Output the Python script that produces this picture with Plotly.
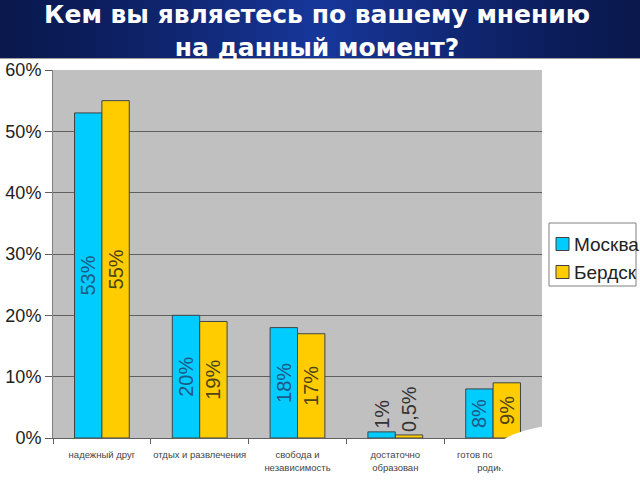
import plotly.graph_objects as go

# Данные опроса
categories = ["надежный друг", "отдых и развлечения", "свобода и<br>независимость",
              "достаточно<br>образован", "готов послужить<br>родине"]
moscow = [53, 20, 18, 1, 8]
berdsk = [55, 19, 17, 0.5, 9]
series_names = ["Москва", "Бердск"]
series_colors = ["#00ccff", "#ffcc00"]
y_ticks = [0, 10, 20, 30, 40, 50, 60]

# геометрия области построения в пикселях (640x480)
L, R, T, B = 53, 542, 70, 438


def px(x):
    return (x - L) / (R - L)


def py(y):
    return (B - y) / (B - T)


def pct_label(v):
    # десятичная запятая, как в оригинале
    return ("%g" % v).replace(".", ",") + "%"


fig = go.Figure()

text_colors = ["#1c5a86", "#4d4418"]
for name, vals, col, tcol in zip(series_names, [moscow, berdsk], series_colors, text_colors):
    fig.add_trace(go.Bar(
        x=categories, y=vals, name=name,
        marker=dict(color=col, line=dict(color="#3f4548", width=1)),
        text=[pct_label(v) for v in vals],
        textposition="auto", textangle=-90, constraintext="none",
        insidetextanchor="middle",
        insidetextfont=dict(family="Liberation Sans, Arial", size=20, color=tcol),
        outsidetextfont=dict(family="Liberation Sans, Arial", size=20, color="#333333"),
        cliponaxis=False, showlegend=False,
    ))

# Шапка слайда: тёмно-синяя полоса, светлее к центру
edge_rgb = (10, 24, 78)
center_rgb = (24, 56, 156)
n_strips = 40
for i in range(n_strips):
    x0 = 640 * i / n_strips
    x1 = 640 * (i + 1) / n_strips
    d = abs((x0 + x1) / 2 - 320) / 320
    k = max(0.0, 1 - d) ** 1.3
    c = tuple(int(e + (m - e) * k) for e, m in zip(edge_rgb, center_rgb))
    fig.add_shape(type="rect", xref="paper", yref="paper",
                  x0=px(x0), x1=px(x1 + 0.5), y0=py(58), y1=py(0),
                  fillcolor="rgb(%d,%d,%d)" % c, line_width=0, layer="below")
fig.add_shape(type="line", xref="paper", yref="paper",
              x0=px(0), x1=px(640), y0=py(58.5), y1=py(58.5),
              line=dict(color="#a0a0a0", width=1))

fig.add_annotation(
    text="<b>Кем вы являетесь по вашему мнению<br>на данный момент?</b>",
    xref="paper", yref="paper", x=px(317), y=py(31),
    xanchor="center", yanchor="middle",
    showarrow=False, align="center",
    font=dict(family="DejaVu Sans", size=25, color="white"),
)

# белое пятно в правом нижнем углу
blob = ("M {},{} L {},{} C {},{} {},{} {},{} C {},{} {},{} {},{} L {},{} Z").format(
    px(640), py(423), px(580), py(423),
    px(522), py(425), px(494), py(440), px(492), py(453),
    px(491), py(462), px(504), py(470), px(512), py(480),
    px(640), py(480))
fig.add_shape(type="path", xref="paper", yref="paper", path=blob,
              fillcolor="white", line_width=0, layer="above")

# легенда в рамке справа
fig.add_shape(type="rect", xref="paper", yref="paper",
              x0=px(549), x1=px(636), y0=py(286), y1=py(223),
              fillcolor="white", line=dict(color="#808080", width=1))
for i, (name, col) in enumerate(zip(series_names, series_colors)):
    yc = 244 + i * 28
    fig.add_shape(type="rect", xref="paper", yref="paper",
                  x0=px(556), x1=px(569), y0=py(yc + 6.5), y1=py(yc - 6.5),
                  fillcolor=col, line=dict(color="#404040", width=1))
    fig.add_annotation(text=name, xref="paper", yref="paper",
                       x=px(572), y=py(yc), xanchor="left", yanchor="middle",
                       showarrow=False,
                       font=dict(family="Liberation Sans, Arial", size=19, color="#222222"))

fig.update_layout(
    width=640, height=480,
    margin=dict(l=L, r=640 - R, t=T, b=480 - B, autoexpand=False),
    paper_bgcolor="white",
    plot_bgcolor="#c0c0c0",
    barmode="group",
    bargap=0.44, bargroupgap=0,
    showlegend=False,
)

fig.update_yaxes(
    range=[0, 60], tickvals=y_ticks,
    ticktext=[f"{v}%" for v in y_ticks],
    showgrid=True, gridcolor="#606060", gridwidth=1,
    showline=True, linecolor="#808080", linewidth=1,
    ticks="outside", ticklen=7, tickcolor="#606060",
    tickfont=dict(family="Liberation Sans, Arial", size=18, color="#222222"),
    zeroline=False, automargin=False,
)
fig.update_xaxes(
    showline=True, linecolor="#606060", linewidth=1,
    ticks="outside", ticklen=5, tickcolor="#606060",
    tickson="boundaries", ticklabelstandoff=8,
    tickfont=dict(family="Liberation Sans, Arial", size=9.5, color="#444444"),
    tickangle=0, automargin=False,
)

# убираем стандартный отступ страницы, чтобы рисунок занял окно 640x480
fig.write_html("out.html", config={"displayModeBar": False},
               post_script="document.body.style.margin='0';")
